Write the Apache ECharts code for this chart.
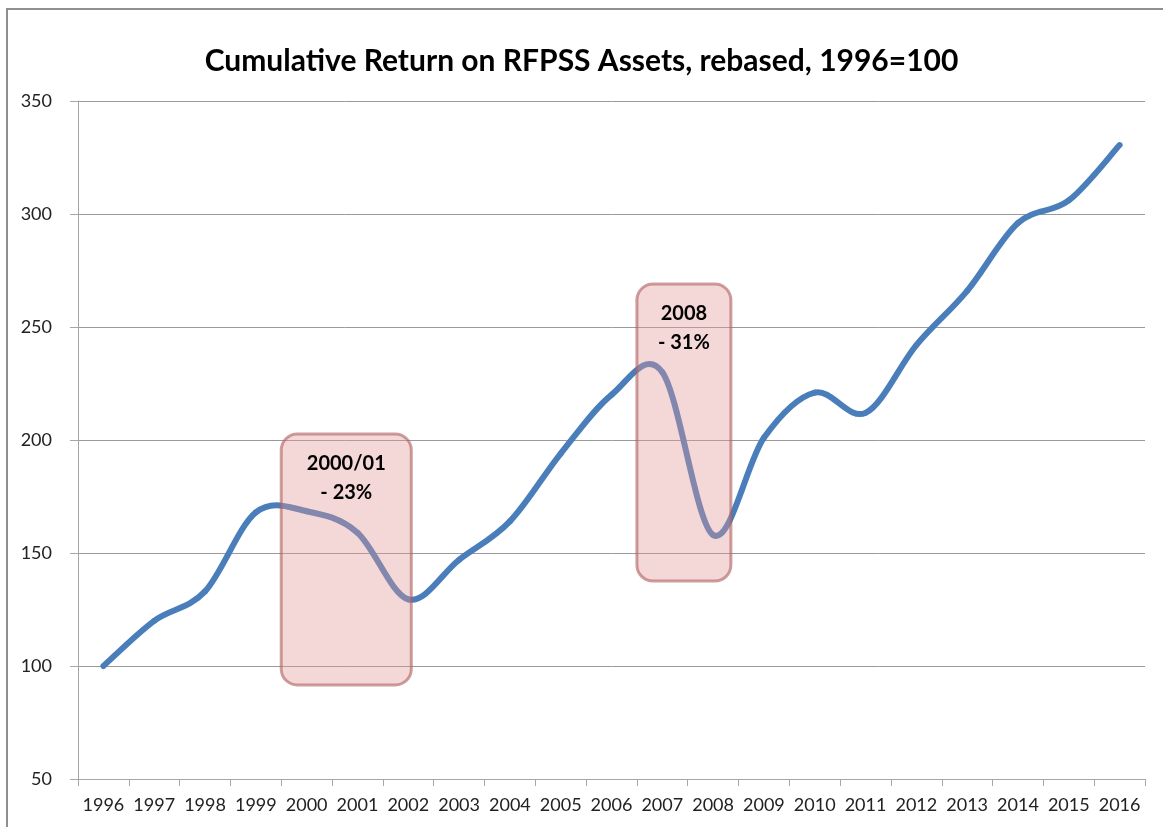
<!DOCTYPE html>
<html>
<head>
<meta charset="utf-8">
<script src="https://cdn.jsdelivr.net/npm/echarts@6/dist/echarts.min.js"></script>
<style>
html,body{margin:0;padding:0;background:#fff;}
#chart{width:1163px;height:827px;}
</style>
</head>
<body>
<div id="chart"></div>
<script>
var titleText = 'Cumulative Return on RFPSS Assets, rebased, 1996=100';
var years = ['1996','1997','1998','1999','2000','2001','2002','2003','2004','2005','2006','2007','2008','2009','2010','2011','2012','2013','2014','2015','2016'];
var values = [100, 120, 133, 168, 168.5, 159, 129.5, 147, 164, 194, 220, 230, 158, 201, 221, 212, 242, 266, 296, 306, 330.5];
var yTicks = {min: 50, max: 350, interval: 50};
// annotation boxes: [xStartCategoryPos, xEndCategoryPos, yTop, yBottom]
var boxLabels = ['2000/01\n- 23%', '2008\n- 31%'];
var boxRanges = [[3.5, 6.06, 202.6, 91.6], [10.5, 12.35, 269, 137.6]];

var chart = echarts.init(document.getElementById('chart'), null, {renderer: 'canvas'});
var font = 'Lato, sans-serif';
var seriesData = years.map(function (y, i) { return [y, values[i]]; });

// Spreadsheet-style smoothed line: each data item draws the Bezier segment to the next point,
// with Catmull-Rom tangents, all coordinates obtained through the chart's axes (api.coord).
function renderSegment(params, api) {
  var i = params.dataIndex;
  var n = values.length;
  if (i >= n - 1) return null;
  function pt(k) {
    k = Math.max(0, Math.min(n - 1, k));
    return api.coord([k, values[k]]);
  }
  var p0 = pt(i - 1), p1 = pt(i), p2 = pt(i + 1), p3 = pt(i + 2);
  var t = 1 / 6;
  return {
    type: 'bezierCurve',
    shape: {
      x1: p1[0], y1: p1[1], x2: p2[0], y2: p2[1],
      cpx1: p1[0] + (p2[0] - p0[0]) * t, cpy1: p1[1] + (p2[1] - p0[1]) * t,
      cpx2: p2[0] - (p3[0] - p1[0]) * t, cpy2: p2[1] - (p3[1] - p1[1]) * t
    },
    style: {stroke: '#4a7ebb', lineWidth: 6, fill: null, lineCap: 'round', lineJoin: 'round'}
  };
}

chart.setOption({
  animation: false,
  backgroundColor: '#ffffff',
  title: {
    text: titleText, left: 'center', top: 41,
    textStyle: {fontFamily: font, fontWeight: 'bold', fontSize: 30, color: '#000'}
  },
  grid: {left: 78, right: 18, top: 101, bottom: 48, containLabel: false},
  xAxis: {
    type: 'category', data: years, boundaryGap: true,
    axisLine: {lineStyle: {color: '#a6a6a6', width: 1}},
    axisTick: {show: true, length: 7, lineStyle: {color: '#a6a6a6'}},
    axisLabel: {color: '#222', fontSize: 18, fontFamily: font, margin: 17, interval: 0}
  },
  yAxis: {
    type: 'value', min: yTicks.min, max: yTicks.max, interval: yTicks.interval,
    axisLine: {show: true, lineStyle: {color: '#a6a6a6', width: 1}},
    axisTick: {show: true, length: 8, lineStyle: {color: '#a6a6a6'}},
    axisLabel: {color: '#222', fontSize: 18, fontFamily: font, margin: 26},
    splitLine: {lineStyle: {color: '#9a9a9a', width: 1}}
  },
  series: [{
    type: 'custom', data: seriesData, encode: {x: 0, y: 1},
    renderItem: renderSegment, clip: false, z: 2
  }]
});

function catToPixel(pos) {
  var c0 = chart.convertToPixel({xAxisIndex: 0}, 0);
  var c1 = chart.convertToPixel({xAxisIndex: 0}, 1);
  return c0 + (c1 - c0) * pos;
}
function buildGraphics() {
  var g = [];
  g.push({type: 'polyline', shape: {points: [[7, 827], [7, 9], [1163, 9]]}, style: {stroke: '#8f8f8f', lineWidth: 2, fill: null}, z: 10});
  boxRanges.forEach(function (r, i) {
    var x1 = catToPixel(r[0]), x2 = catToPixel(r[1]);
    var y1 = chart.convertToPixel({yAxisIndex: 0}, r[2]);
    var y2 = chart.convertToPixel({yAxisIndex: 0}, r[3]);
    var w = x2 - x1, h = y2 - y1;
    g.push({
      type: 'rect', shape: {x: x1, y: y1, width: w, height: h, r: 16},
      style: {fill: 'rgba(225,150,150,0.38)', stroke: 'rgba(175,95,95,0.6)', lineWidth: 3},
      z: 100
    });
    g.push({
      type: 'text', x: x1 + w / 2, y: y1 + 15,
      style: {text: boxLabels[i], fill: '#000', font: 'bold 20px Lato, sans-serif', align: 'center', verticalAlign: 'top', lineHeight: 29},
      z: 101
    });
  });
  chart.setOption({graphic: g});
}
buildGraphics();
</script>
</body>
</html>
